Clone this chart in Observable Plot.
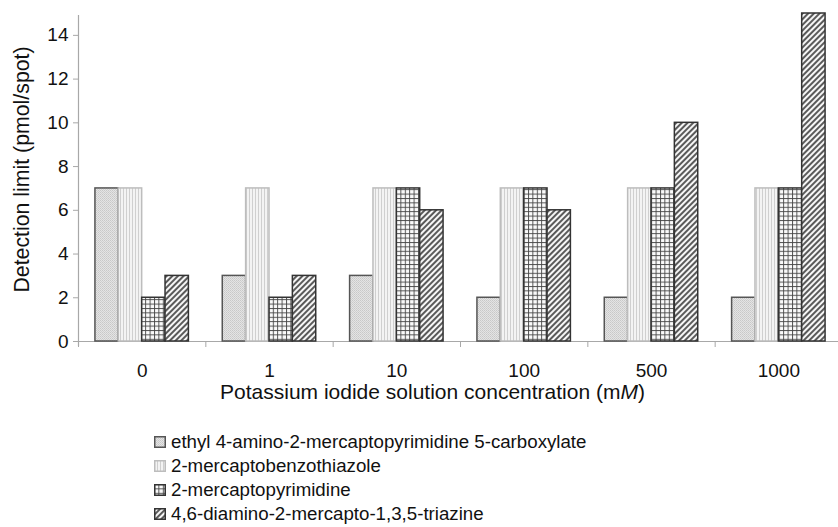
<!DOCTYPE html>
<html>
<head>
<meta charset="utf-8">
<script src="https://cdn.jsdelivr.net/npm/d3@7"></script>
<script src="https://cdn.jsdelivr.net/npm/@observablehq/plot@0.6"></script>
<style>
  html, body { margin: 0; padding: 0; background: #fff; }
  body { width: 838px; height: 527px; overflow: hidden; font-family: "Liberation Sans", Arial, sans-serif; color: #111; }
  #chart { height: 420px; }
  #legend { margin-left: 154px; margin-top: 10px; }
  .item { display: flex; align-items: center; height: 24px; font-size: 18.7px; white-space: nowrap; }
  .item svg { margin-right: 5px; flex: none; }
</style>
</head>
<body>
<svg width="0" height="0" style="position:absolute">
  <defs>
    <pattern id="p0" patternUnits="userSpaceOnUse" width="2" height="2">
      <rect width="2" height="2" fill="#e4e4e4"></rect>
      <rect x="0" y="0" width="1" height="1" fill="#c8c8c8"></rect>
      <rect x="1" y="1" width="1" height="1" fill="#d0d0d0"></rect>
    </pattern>
    <pattern id="p1" patternUnits="userSpaceOnUse" width="3" height="3">
      <rect width="3" height="3" fill="#f3f3f3"></rect>
      <line x1="0.5" y1="0" x2="0.5" y2="3" stroke="#cfcfcf" stroke-width="1"></line>
    </pattern>
    <pattern id="p2" patternUnits="userSpaceOnUse" width="4.4" height="4.4">
      <rect width="4.4" height="4.4" fill="#fafafa"></rect>
      <line x1="0.5" y1="0" x2="0.5" y2="4.4" stroke="#444" stroke-width="0.9"></line>
      <line x1="0" y1="0.5" x2="4.4" y2="0.5" stroke="#444" stroke-width="0.9"></line>
    </pattern>
    <pattern id="p3" patternUnits="userSpaceOnUse" width="4" height="4" patternTransform="rotate(45)">
      <rect width="4" height="4" fill="#f6f6f6"></rect>
      <line x1="1" y1="0" x2="1" y2="4" stroke="#333" stroke-width="1.6"></line>
    </pattern>
  </defs>
</svg>
<div id="chart"></div>
<div id="legend"></div>
<script>
// ---- data ----
const concentrations = ["0", "1", "10", "100", "500", "1000"];
const seriesNames = [
  "ethyl 4-amino-2-mercaptopyrimidine 5-carboxylate",
  "2-mercaptobenzothiazole",
  "2-mercaptopyrimidine",
  "4,6-diamino-2-mercapto-1,3,5-triazine"
];
const ethylValues = [7, 3, 3, 2, 2, 2];
const benzothiazoleValues = [7, 7, 7, 7, 7, 7];
const pyrimidineValues = [2, 2, 7, 7, 7, 7];
const triazineValues = [3, 3, 6, 6, 10, 15];
const yTicks = [0, 2, 4, 6, 8, 10, 12, 14];
const xLabel = "Potassium iodide solution concentration (mM)";
const yLabel = "Detection limit (pmol/spot)";

// ---- styles ----
const fills = ["url(#p0)", "url(#p1)", "url(#p2)", "url(#p3)"];
const strokes = ["#555", "#bdbdbd", "#333", "#333"];

const allValues = [ethylValues, benzothiazoleValues, pyrimidineValues, triazineValues];
const barW = 0.1835;
const groupPad = (1 - seriesNames.length * barW) / 2;
const rows = [];
allValues.forEach((vals, si) => {
  vals.forEach((v, gi) => {
    rows.push({gi, si, value: v, x1: gi + groupPad + si * barW, x2: gi + groupPad + (si + 1) * barW});
  });
});

const gray = "#a8a8a8";
const chart = Plot.plot({
  width: 838,
  height: 420,
  marginLeft: 78,
  marginRight: 0,
  marginTop: 13,
  marginBottom: 79,
  style: {fontFamily: "Liberation Sans, Arial, sans-serif", fontSize: "19px", color: "#111", background: "#fff"},
  x: {domain: [0, concentrations.length], range: [78, 842], axis: null},
  y: {domain: [0, 15], axis: null},
  marks: [
    Plot.ruleY([0], {stroke: gray, strokeWidth: 1.2}),
    Plot.ruleX([0], {stroke: gray, strokeWidth: 1.2, insetBottom: -5, insetTop: 2}),
    Plot.axisY({ticks: yTicks, tickSize: 5, tickPadding: 5, stroke: gray, fontSize: 19, label: null, fill: "#111"}),
    Plot.axisX({ticks: d3.range(0, concentrations.length + 1), tickSize: 6, tickFormat: () => "", stroke: gray, label: null}),
    Plot.axisX({ticks: concentrations.map((c, i) => i + 0.5), tickSize: 0, tickPadding: 22, tickFormat: v => concentrations[Math.floor(v)], fontSize: 19, label: null, fill: "#111"}),
    ...seriesNames.map((name, si) => Plot.rectY(rows.filter(d => d.si === si), {
      x1: "x1", x2: "x2", y1: 0, y2: "value",
      fill: fills[si], stroke: strokes[si], strokeWidth: 1.5
    })),
    Plot.text([xLabel], {frameAnchor: "bottom", dy: 57, dx: -26, fontSize: 21, fill: "#111"}),
    Plot.text([yLabel], {frameAnchor: "left", textAnchor: "middle", rotate: -90, dx: -56, dy: -8, fontSize: 21.3, fill: "#111"})
  ]
});
document.getElementById("chart").appendChild(chart);

// italic M in unit
d3.select(chart).selectAll("text").filter(function() { return this.textContent === xLabel; })
  .each(function() {
    const t = d3.select(this);
    t.text(null);
    t.append("tspan").text("Potassium iodide solution concentration (m");
    t.append("tspan").attr("font-style", "italic").text("M");
    t.append("tspan").text(")");
  });

// legend
const legend = d3.select("#legend");
seriesNames.forEach((name, i) => {
  const item = legend.append("div").attr("class", "item");
  const s = item.append("svg").attr("width", 12).attr("height", 12);
  s.append("rect").attr("x", 0.75).attr("y", 0.75).attr("width", 10.5).attr("height", 10.5)
    .attr("fill", fills[i]).attr("stroke", strokes[i]).attr("stroke-width", 1.5);
  item.append("span").text(name);
});
</script>
</body>
</html>
